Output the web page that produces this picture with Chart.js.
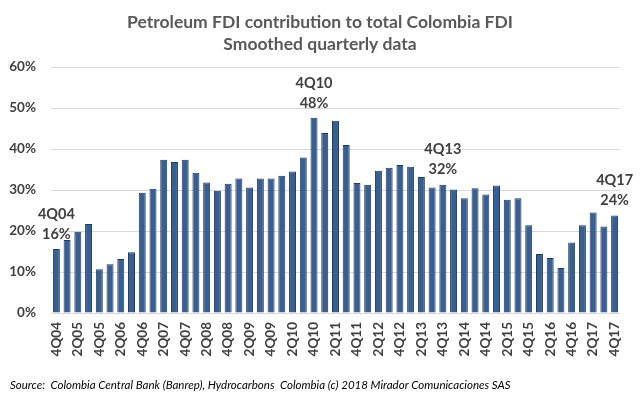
<!DOCTYPE html>
<html>
<head>
<meta charset="utf-8">
<script src="https://cdn.jsdelivr.net/npm/chart.js@4"></script>
<style>
  html, body { margin: 0; padding: 0; background: #fff; }
  #wrap { width: 640px; height: 395px; position: relative; }
</style>
</head>
<body>
<div id="wrap"><canvas id="fdiChart"></canvas></div>
<script>
// Quarter labels, 4Q04 .. 4Q17
const quarters = [
  "4Q04",
  "1Q05", "2Q05", "3Q05", "4Q05",
  "1Q06", "2Q06", "3Q06", "4Q06",
  "1Q07", "2Q07", "3Q07", "4Q07",
  "1Q08", "2Q08", "3Q08", "4Q08",
  "1Q09", "2Q09", "3Q09", "4Q09",
  "1Q10", "2Q10", "3Q10", "4Q10",
  "1Q11", "2Q11", "3Q11", "4Q11",
  "1Q12", "2Q12", "3Q12", "4Q12",
  "1Q13", "2Q13", "3Q13", "4Q13",
  "1Q14", "2Q14", "3Q14", "4Q14",
  "1Q15", "2Q15", "3Q15", "4Q15",
  "1Q16", "2Q16", "3Q16", "4Q16",
  "1Q17", "2Q17", "3Q17", "4Q17",
];

// Petroleum share of total FDI (%), smoothed
const petroleumShare = [
  15.6,
  17.8, 19.8, 21.7, 10.7,
  11.9, 13.2, 14.8, 29.3,
  30.3, 37.4, 36.8, 37.4,
  34.2, 31.8, 29.8, 31.5,
  32.8, 30.6, 32.8, 32.8,
  33.5, 34.5, 37.9, 47.6,
  43.9, 46.9, 41.0, 31.7,
  31.3, 34.7, 35.4, 36.1,
  35.7, 33.2, 30.6, 31.3,
  30.1, 28.0, 30.4, 28.9,
  31.1, 27.6, 28.0, 21.4,
  14.4, 13.4, 11.0, 17.2,
  21.4, 24.5, 21.1, 23.8,
];

const yTicks = [0, 10, 20, 30, 40, 50, 60];

// Highlighted quarters with their callout text
const calloutQuarters = ["4Q04", "4Q10", "4Q13", "4Q17"];
const calloutValues = ["16%", "48%", "32%", "24%"];

const titleLines = [
  "Petroleum FDI contribution to total Colombia FDI",
  "Smoothed quarterly data",
];
const sourceNote =
  "Source:  Colombia Central Bank (Banrep), Hydrocarbons  Colombia (c) 2018 Mirador Comunicaciones SAS";

// Title, source line and bar callouts
const textPlugin = {
  id: "textPlugin",
  afterDraw(chart) {
    const ctx = chart.ctx;
    ctx.save();
    ctx.textAlign = "center";
    ctx.textBaseline = "middle";

    ctx.fillStyle = "#595959";
    ctx.font = "bold 17.5px Lato";
    ctx.fillText(titleLines[0], 320, 22);
    ctx.fillText(titleLines[1], 320, 44);

    const x = chart.scales.x;
    const y = chart.scales.y;
    ctx.fillStyle = "#404040";
    ctx.font = "bold 14.5px Lato";
    calloutQuarters.forEach((q, i) => {
      const idx = quarters.indexOf(q);
      const px = x.getPixelForValue(idx);
      const top = y.getPixelForValue(petroleumShare[idx]);
      ctx.fillText(calloutValues[i], px, top - 15);
      ctx.fillText(q, px, top - 35);
    });

    ctx.textAlign = "left";
    ctx.fillStyle = "#000";
    ctx.font = "italic 11.5px Lato";
    ctx.fillText(sourceNote, 10, 385);
    ctx.restore();
  },
};

new Chart(document.getElementById("fdiChart"), {
  type: "bar",
  data: {
    labels: quarters,
    datasets: [
      {
        data: petroleumShare,
        backgroundColor: "#3A5F8E",
        borderColor: "#1F3A5F",
        borderWidth: 1,
        barPercentage: 0.65,
        categoryPercentage: 1,
      },
    ],
  },
  options: {
    responsive: true,
    maintainAspectRatio: false,
    animation: false,
    layout: {
      padding: { left: 0, right: 20, top: 67, bottom: 0 },
    },
    plugins: {
      legend: { display: false },
      tooltip: { enabled: false },
    },
    scales: {
      y: {
        min: 0,
        max: 60,
        afterFit(scale) {
          scale.width = 51;
        },
        afterBuildTicks(scale) {
          scale.ticks = yTicks.map((v) => ({ value: v }));
        },
        grid: {
          color: "#D9D9D9",
          drawTicks: false,
        },
        border: { display: false },
        ticks: {
          padding: 15,
          color: "#404040",
          font: { family: "Lato", size: 13.5, weight: "bold" },
          callback: (v) => v + "%",
        },
      },
      x: {
        afterFit(scale) {
          scale.height = 82;
        },
        grid: { display: false, drawTicks: false },
        border: { display: true, color: "#D9D9D9" },
        ticks: {
          autoSkip: false,
          maxRotation: 90,
          minRotation: 90,
          padding: 9,
          color: "#404040",
          font: { family: "Lato", size: 13.5, weight: "bold" },
          callback: (v, i) => (i % 2 === 0 ? quarters[i] : ""),
        },
      },
    },
  },
  plugins: [textPlugin],
});
</script>
</body>
</html>
